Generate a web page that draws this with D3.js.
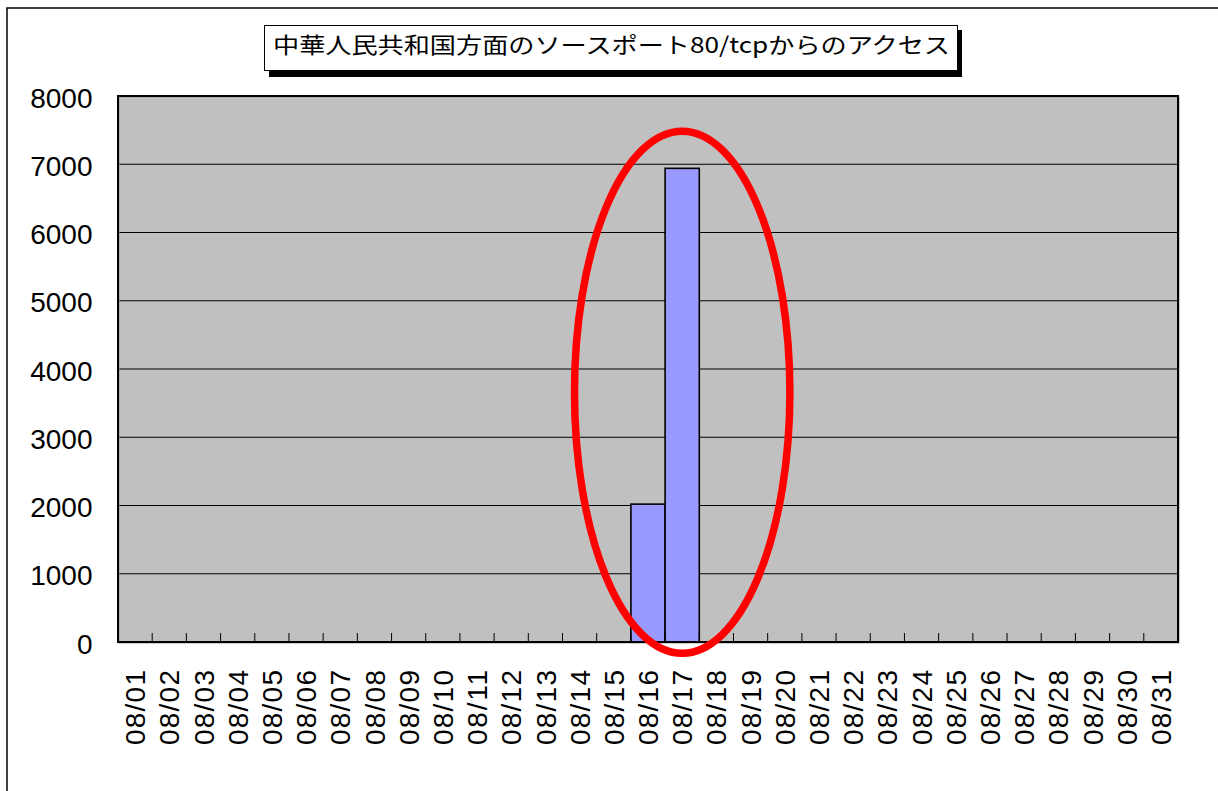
<!DOCTYPE html>
<html>
<head>
<meta charset="utf-8">
<script src="https://cdn.jsdelivr.net/npm/d3@7"></script>
<style>
  html, body { margin: 0; padding: 0; background: #fff; }
  svg { display: block; }
</style>
</head>
<body>
<script>
const categories = ["08/01","08/02","08/03","08/04","08/05","08/06","08/07","08/08","08/09","08/10",
  "08/11","08/12","08/13","08/14","08/15","08/16","08/17","08/18","08/19","08/20",
  "08/21","08/22","08/23","08/24","08/25","08/26","08/27","08/28","08/29","08/30","08/31"];
const accessCounts = [0,0,0,0,0,0,0,0,0,0,
  0,0,0,0,0,2020,6940,0,0,0,
  0,0,0,0,0,0,0,0,0,0,0];
const yTickValues = [0,1000,2000,3000,4000,5000,6000,7000,8000];
const titleText = "中華人民共和国方面のソースポート80/tcpからのアクセス";
// highlight annotation (in data terms)
const highlightCategory = "08/17";
const highlightCenterValue = 3660;
const highlightHalfHeightValue = 3825;
const highlightHalfWidthBands = 3.15;

const W = 1218, H = 791;
const plot = { left: 118, right: 1178, top: 96, bottom: 642 };

const svg = d3.select("body").append("svg").attr("width", W).attr("height", H);

// outer chart frame
svg.append("rect").attr("x", 7).attr("y", 8).attr("width", W + 20).attr("height", H + 20)
  .attr("fill", "#fff").attr("stroke", "#000").attr("stroke-width", 1.5);

const x = d3.scaleBand().domain(categories).range([plot.left, plot.right]).padding(0);
const y = d3.scaleLinear().domain([0, 8000]).range([plot.bottom, plot.top]);

// plot background
svg.append("rect").attr("x", plot.left).attr("y", plot.top)
  .attr("width", plot.right - plot.left).attr("height", plot.bottom - plot.top)
  .attr("fill", "#C0C0C0");

// gridlines
svg.append("g").selectAll("line").data(yTickValues.filter(v => v > 0 && v < 8000)).join("line")
  .attr("x1", plot.left).attr("x2", plot.right)
  .attr("y1", d => y(d)).attr("y2", d => y(d))
  .attr("stroke", "#000").attr("stroke-width", 1.2);

// bars
const data = categories.map((c, i) => ({ c, v: accessCounts[i] }));
svg.append("g").selectAll("rect").data(data.filter(d => d.v > 0)).join("rect")
  .attr("x", d => x(d.c)).attr("width", x.bandwidth())
  .attr("y", d => y(d.v)).attr("height", d => y(0) - y(d.v))
  .attr("fill", "#9999FF").attr("stroke", "#000").attr("stroke-width", 1.6);

// x category boundary ticks (pointing up into the plot)
svg.append("g").selectAll("line").data(categories.slice(1)).join("line")
  .attr("x1", d => x(d)).attr("x2", d => x(d))
  .attr("y1", plot.bottom).attr("y2", plot.bottom - 9)
  .attr("stroke", "#000").attr("stroke-width", 1);

// plot border
svg.append("rect").attr("x", plot.left + 1).attr("y", plot.top + 1)
  .attr("width", plot.right - plot.left).attr("height", plot.bottom - plot.top)
  .attr("fill", "none").attr("stroke", "#999").attr("stroke-width", 1);
svg.append("rect").attr("x", plot.left).attr("y", plot.top)
  .attr("width", plot.right - plot.left).attr("height", plot.bottom - plot.top)
  .attr("fill", "none").attr("stroke", "#000").attr("stroke-width", 2);

// y axis labels
const yAxis = d3.axisLeft(y).tickValues(yTickValues).tickSize(0).tickPadding(25.5)
  .tickFormat(d3.format("d"));
const gy = svg.append("g").attr("transform", `translate(${plot.left},0)`).call(yAxis);
gy.select(".domain").remove();
gy.selectAll("text")
  .attr("font-family", "'Liberation Sans', Arial, sans-serif")
  .attr("font-size", 28).attr("fill", "#000").attr("dy", "0.4em");

// x axis labels
const xAxis = d3.axisBottom(x).tickSize(0);
const gx = svg.append("g").attr("transform", `translate(0,${plot.bottom})`).call(xAxis);
gx.select(".domain").remove();
gx.selectAll("text")
  .attr("font-family", "'Liberation Sans', Arial, sans-serif")
  .attr("font-size", 28).attr("fill", "#000")
  .attr("transform", "rotate(-90)")
  .attr("text-anchor", "end")
  .attr("x", -28).attr("y", 0).attr("dy", "0.36em")
  .attr("textLength", 75).attr("lengthAdjust", "spacing");

// red highlight ellipse
svg.append("ellipse")
  .attr("cx", x(highlightCategory) + x.bandwidth() / 2)
  .attr("cy", y(highlightCenterValue))
  .attr("rx", x.bandwidth() * highlightHalfWidthBands)
  .attr("ry", y(0) - y(highlightHalfHeightValue))
  .attr("fill", "none").attr("stroke", "#FF0000").attr("stroke-width", 7.5);

// title box with shadow
svg.append("rect").attr("x", 269).attr("y", 30).attr("width", 693).attr("height", 47).attr("fill", "#000");
svg.append("rect").attr("x", 264.5).attr("y", 25.5).attr("width", 693).attr("height", 45)
  .attr("fill", "#fff").attr("stroke", "#000").attr("stroke-width", 1);
svg.append("text").attr("x", 273).attr("y", 53)
  .attr("font-family", "'Noto Sans CJK JP', sans-serif").attr("font-size", 22)
  .attr("textLength", 677).attr("lengthAdjust", "spacingAndGlyphs")
  .attr("fill", "#000").text(titleText);
</script>
</body>
</html>
